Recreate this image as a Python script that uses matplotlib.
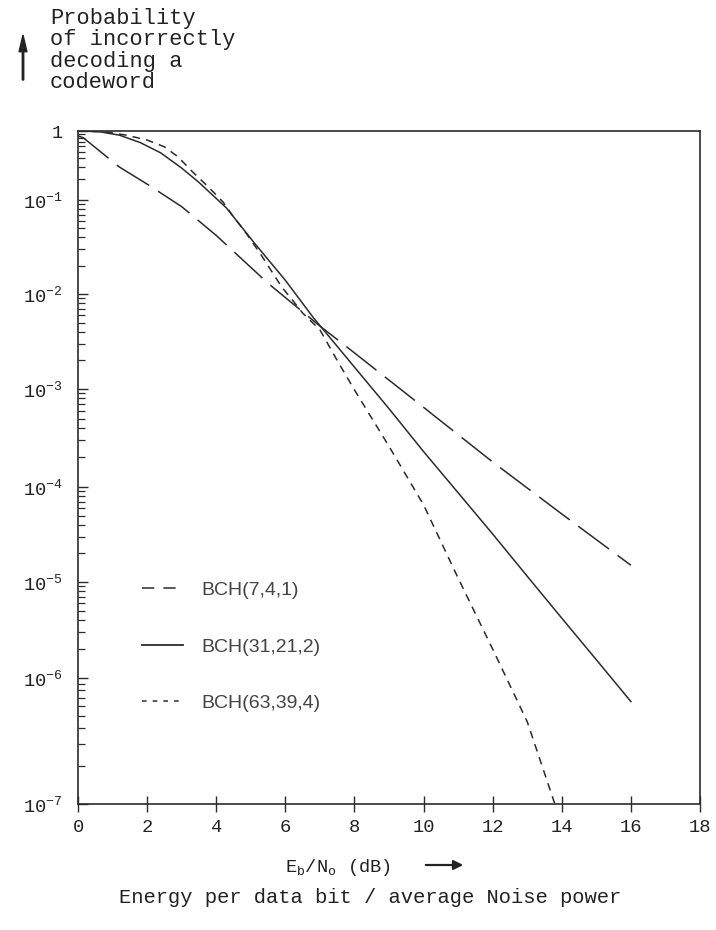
import numpy as np
import matplotlib
matplotlib.use('Agg')
import matplotlib.pyplot as plt
from matplotlib.ticker import FixedLocator, FuncFormatter, NullFormatter
from matplotlib.lines import Line2D

plt.rcParams['font.family'] = ['Liberation Mono', 'DejaVu Sans']
plt.rcParams['mathtext.fontset'] = 'custom'
plt.rcParams['mathtext.rm'] = 'Liberation Mono'
plt.rcParams['mathtext.it'] = 'Liberation Mono'
plt.rcParams['mathtext.default'] = 'rm'

# ---------------- data ----------------
labels = ['BCH(7,4,1)', 'BCH(31,21,2)', 'BCH(63,39,4)']

x_741 = [0.0, 0.15, 1.2, 2.0, 3.0, 4.0, 5.5, 7.0, 8.0, 10.0, 12.0, 14.0, 16.0]
y_741 = [0.85, 0.80, 0.30, 0.17, 0.085, 0.042, 0.013, 4.6e-3, 2.4e-3, 6.5e-4, 1.8e-4, 5.2e-5, 1.5e-5]

x_31 = [0.0, 0.6, 1.2, 1.8, 2.4, 3.0, 3.5, 4.3, 5.1, 6.0, 6.8, 8.0, 9.0, 10.0, 11.0, 12.0, 13.0, 14.0, 15.0, 16.0]
y_31 = [1.0, 0.98, 0.87, 0.68, 0.48, 0.29, 0.18, 0.082, 0.035, 0.014, 5.7e-3, 1.7e-3, 6.3e-4, 2.3e-4, 8.7e-5, 3.2e-5, 1.15e-5, 4.2e-6, 1.55e-6, 6.5e-7]

x_63 = [0.0, 0.8, 1.4, 2.0, 2.5, 2.9, 3.3, 3.8, 4.2, 4.5, 4.8, 5.3, 5.9, 6.2, 6.5, 7.0, 7.5, 8.0, 9.0, 10.0, 11.0, 12.0, 13.0, 13.8]
y_63 = [1.0, 0.97, 0.87, 0.74, 0.59, 0.42, 0.26, 0.15, 0.095, 0.066, 0.048, 0.026, 0.0118, 8.7e-3, 6.3e-3, 4.2e-3, 2.0e-3, 9.8e-4, 2.6e-4, 6.5e-5, 1.1e-5, 2.0e-6, 4.5e-7, 1e-7]

x_ticks = [0, 2, 4, 6, 8, 10, 12, 14, 16, 18]
y_decades = [-7, -6, -5, -4, -3, -2, -1, 0]

# The original axis has unevenly drawn decades; this is the scale as drawn
decade_pos = np.array([0.0, 126.0, 222.0, 317.0, 415.0, 510.0, 604.0, 673.0])
dec = np.array(y_decades, dtype=float)


def _interp_ext(v, xp, fp):
    v = np.asarray(v, dtype=float)
    out = np.interp(v, xp, fp)
    s0 = (fp[1] - fp[0]) / (xp[1] - xp[0])
    s1 = (fp[-1] - fp[-2]) / (xp[-1] - xp[-2])
    out = np.where(v < xp[0], fp[0] + (v - xp[0]) * s0, out)
    out = np.where(v > xp[-1], fp[-1] + (v - xp[-1]) * s1, out)
    return out


def fwd(y):
    y = np.asarray(y, dtype=float)
    ly = np.log10(np.clip(y, 1e-300, None))
    return _interp_ext(ly, dec, decade_pos)


def inv(p):
    return 10.0 ** _interp_ext(p, decade_pos, dec)


# ---------------- figure ----------------
W, H = 716, 930
fig = plt.figure(figsize=(W / 100, H / 100), dpi=100)
ax = fig.add_axes([78 / W, 1 - 804 / H, (700 - 78) / W, (804 - 131) / H])

ink = '#2b2b2b'
lw = 1.1
ax.plot(x_741, y_741, color=ink, lw=lw, linestyle=(0, (25, 7)))
ax.plot(x_31, y_31, color=ink, lw=lw, linestyle='-')
ax.plot(x_63, y_63, color=ink, lw=lw, linestyle=(0, (5, 4)))

ax.set_yscale('function', functions=(fwd, inv))
ax.set_xlim(0, 18)
ax.set_ylim(1e-7, 1)

ax.yaxis.set_major_locator(FixedLocator([10.0 ** k for k in y_decades]))
ax.yaxis.set_minor_locator(FixedLocator([m * 10.0 ** k for k in y_decades[:-1] for m in range(2, 10)]))


def yfmt(v, pos):
    k = int(round(np.log10(v)))
    if k == 0:
        return '1'
    return '10$^{%d}$' % k


ax.yaxis.set_major_formatter(FuncFormatter(yfmt))
ax.yaxis.set_minor_formatter(NullFormatter())
ax.xaxis.set_major_locator(FixedLocator(x_ticks))

ax.tick_params(axis='y', which='major', direction='in', length=7, width=1.0,
               color=ink, labelsize=13.5, pad=11, labelcolor='#222')
ax.tick_params(axis='y', which='minor', direction='in', length=5, width=0.9, color=ink)
ax.tick_params(axis='x', which='major', direction='inout', length=11, width=1.0,
               color=ink, labelsize=13.5, pad=5, labelcolor='#222')

for s in ax.spines.values():
    s.set_color(ink)
    s.set_linewidth(1.2)

# legend
handles = [Line2D([], [], color=ink, lw=lw, linestyle=(0, (8, 6))),
           Line2D([], [], color=ink, lw=1.3, linestyle='-'),
           Line2D([], [], color=ink, lw=lw, linestyle=(0, (3, 4)))]
leg = ax.legend(handles, labels, loc='upper left', bbox_to_anchor=(0.088, 0.345),
                frameon=False, handlelength=2.1, handletextpad=0.95, labelspacing=2.0,
                borderpad=0.0, prop={'family': 'Liberation Sans', 'size': 14})
for t in leg.get_texts():
    t.set_color('#444')

# axis titles
fig.text(50 / W, 1 - 8 / H, 'Probability\nof incorrectly\ndecoding a\ncodeword',
         ha='left', va='top', fontsize=15.8, linespacing=1.02, color='#222')
fig.patches.append(matplotlib.patches.FancyArrow(
    23 / W, 1 - 80 / H, 0, (80 - 35) / H, width=0.002, head_width=0.011,
    head_length=0.018, length_includes_head=True, transform=fig.transFigure,
    color='#222'))

fig.text(338 / W, 1 - 867 / H, r'E$_\mathregular{b}$/N$_\mathregular{o}$ (dB)',
         ha='center', va='center', fontsize=13.5, color='#222')
ax.annotate('', xy=(466 / W, 1 - 865 / H), xytext=(423 / W, 1 - 865 / H),
            xycoords='figure fraction', textcoords='figure fraction',
            arrowprops=dict(arrowstyle='-|>', color='#222', lw=1.6,
                            mutation_scale=14))
fig.text(370 / W, 1 - 897 / H, 'Energy per data bit / average Noise power',
         ha='center', va='center', fontsize=14.8, color='#222')

fig.savefig('out.png', dpi=100)
